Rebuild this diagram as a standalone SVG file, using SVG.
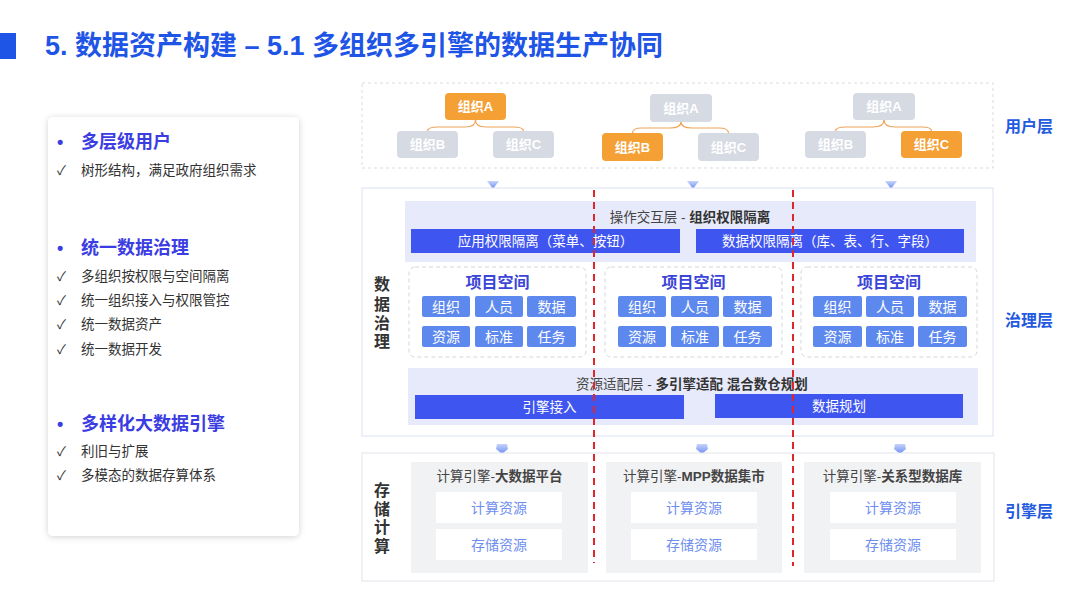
<svg xmlns="http://www.w3.org/2000/svg" width="1080" height="608" viewBox="0 0 1080 608">
<defs>
<style>
text{font-family:"Liberation Sans","Noto Sans CJK SC",sans-serif;}
.title{font-size:27px;font-weight:bold;fill:#1f55e6;}
.h{font-size:18px;font-weight:bold;fill:#3b3de2;}
.it{font-size:13.5px;fill:#333;}
.ck{font-size:13px;fill:#333;}
.lay{font-size:16px;font-weight:bold;fill:#1f5ae0;}
.vt{font-size:16px;font-weight:bold;fill:#333;text-anchor:middle;}
.org{fill:#d6dae3;}
.orgo{fill:#f5a035;}
.ot{font-size:13px;font-weight:bold;fill:#fff;text-anchor:middle;}
.conn{fill:none;stroke:#eea55a;stroke-width:1.2;}
.band{fill:#e7eafa;}
.bar{fill:#3f55f0;}
.bt{font-size:13.5px;fill:#fff;text-anchor:middle;}
.lt{font-size:13.5px;fill:#444;text-anchor:middle;}
.ps{fill:#fff;stroke:#d4d7de;stroke-width:1;stroke-dasharray:4 3;}
.pt{font-size:16px;font-weight:bold;fill:#3b45d8;text-anchor:middle;}
.btn{fill:#5d89ee;}
.btt{font-size:14px;fill:#fff;text-anchor:middle;}
.eng{fill:#f1f2f4;}
.card{fill:#fff;}
.ct{font-size:14px;fill:#6e8ef0;text-anchor:middle;}
.red{stroke:#e0262a;stroke-width:2;stroke-dasharray:7 5;}
</style>
<linearGradient id="ag" x1="0" y1="0" x2="0" y2="1">
<stop offset="0" stop-color="#c6d3fb"/>
<stop offset="1" stop-color="#6b8ef0"/>
</linearGradient>
<filter id="sh" x="-10%" y="-10%" width="120%" height="120%">
<feDropShadow dx="0" dy="1" stdDeviation="3" flood-color="#000" flood-opacity="0.18"/>
</filter>
</defs>
<rect width="1080" height="608" fill="#fff"/>

<g id="title">
<rect x="0" y="33" width="16" height="26" fill="#1f55e6"/>
<text class="title" x="45" y="55">5. 数据资产构建 – 5.1 多组织多引擎的数据生产协同</text>
</g>

<g id="left-card">
<rect x="48" y="117" width="251" height="419" rx="5" fill="#fff" filter="url(#sh)"/>
<text class="h" x="57" y="148">•</text>
<text class="h" x="81" y="148">多层级用户</text>
<text class="ck" x="57" y="175">✓</text>
<text class="it" x="81" y="175">树形结构，满足政府组织需求</text>
<text class="h" x="57" y="254">•</text>
<text class="h" x="81" y="254">统一数据治理</text>
<text class="ck" x="57" y="281">✓</text><text class="it" x="81" y="281">多组织按权限与空间隔离</text>
<text class="ck" x="57" y="305">✓</text><text class="it" x="81" y="305">统一组织接入与权限管控</text>
<text class="ck" x="57" y="329">✓</text><text class="it" x="81" y="329">统一数据资产</text>
<text class="ck" x="57" y="354">✓</text><text class="it" x="81" y="354">统一数据开发</text>
<text class="h" x="57" y="430">•</text>
<text class="h" x="81" y="430">多样化大数据引擎</text>
<text class="ck" x="57" y="456">✓</text><text class="it" x="81" y="456">利旧与扩展</text>
<text class="ck" x="57" y="480">✓</text><text class="it" x="81" y="480">多模态的数据存算体系</text>
</g>

<g id="user-layer">
<rect x="362" y="83" width="631" height="85" fill="#fff" stroke="#d8dbe2" stroke-width="1" stroke-dasharray="3 3"/>
<text class="lay" x="1005" y="132">用户层</text>
</g>

<g id="connectors">
<path class="conn" d="M475.5,120 Q475.5,127 465,127 L438,127 Q427.5,127 427.5,131"/>
<path class="conn" d="M475.5,120 Q475.5,127 486,127 L513,127 Q523.5,127 523.5,131"/>
<path class="conn" d="M681,122 Q681,128 670,128 L642,128 Q632.5,128 632.5,133"/>
<path class="conn" d="M681,122 Q681,128 692,128 L719,128 Q728.5,128 728.5,133"/>
<path class="conn" d="M884,120 Q884,127 873,127 L846,127 Q835.5,127 835.5,131"/>
<path class="conn" d="M884,120 Q884,127 895,127 L922,127 Q931.5,127 931.5,131"/>
<path d="M487,181 L499,181 L493,189 Z" fill="url(#ag)"/>
<path d="M687,181 L699,181 L693,189 Z" fill="url(#ag)"/>
<path d="M885,181 L897,181 L891,189 Z" fill="url(#ag)"/>
<path d="M497,444 L507,444 L508,449 L502,454 L496,449 Z" fill="url(#ag)"/>
<path d="M697,444 L707,444 L708,449 L702,454 L696,449 Z" fill="url(#ag)"/>
<path d="M895,444 L905,444 L906,449 L900,454 L894,449 Z" fill="url(#ag)"/>
</g>

<g id="org1">
<rect class="orgo" x="445" y="93" width="61" height="27" rx="4"/>
<text class="ot" x="475.5" y="111">组织A</text>
<rect class="org" x="397" y="131" width="61" height="27" rx="4"/>
<text class="ot" x="427.5" y="149">组织B</text>
<rect class="org" x="493" y="131" width="61" height="27" rx="4"/>
<text class="ot" x="523.5" y="149">组织C</text>
</g>
<g id="org2">
<rect class="org" x="650" y="94" width="62" height="28" rx="4"/>
<text class="ot" x="681" y="112.5">组织A</text>
<rect class="orgo" x="602" y="133" width="61" height="28" rx="4"/>
<text class="ot" x="632.5" y="151.5">组织B</text>
<rect class="org" x="698" y="133" width="61" height="28" rx="4"/>
<text class="ot" x="728.5" y="151.5">组织C</text>
</g>
<g id="org3">
<rect class="org" x="853" y="93" width="62" height="27" rx="4"/>
<text class="ot" x="884" y="111">组织A</text>
<rect class="org" x="805" y="131" width="61" height="27" rx="4"/>
<text class="ot" x="835.5" y="149">组织B</text>
<rect class="orgo" x="901" y="131" width="61" height="27" rx="4"/>
<text class="ot" x="931.5" y="149">组织C</text>
</g>

<g id="governance">
<rect x="362" y="188" width="631" height="248" fill="#fff" stroke="#dde2f3" stroke-width="1"/>
<text class="vt" x="382" y="290">数</text>
<text class="vt" x="382" y="310">据</text>
<text class="vt" x="382" y="329">治</text>
<text class="vt" x="382" y="347">理</text>
<text class="lay" x="1005" y="326">治理层</text>
</g>

<g id="op-layer">
<rect class="band" x="405" y="201" width="571" height="61"/>
<text class="lt" x="690" y="222">操作交互层 - <tspan font-weight="bold" fill="#333">组织权限隔离</tspan></text>
<rect class="bar" x="411" y="229" width="269" height="24"/>
<text class="bt" x="545.5" y="246">应用权限隔离（菜单、按钮）</text>
<rect class="bar" x="696" y="229" width="268" height="24"/>
<text class="bt" x="830" y="246">数据权限隔离（库、表、行、字段）</text>
</g>

<g id="space1">
<rect class="ps" x="409" y="267" width="177" height="90" rx="6"/>
<text class="pt" x="497.5" y="288">项目空间</text>
<rect class="btn" x="422" y="296" width="48" height="21" rx="2"/><text class="btt" x="446" y="311.5">组织</text>
<rect class="btn" x="475" y="296" width="48" height="21" rx="2"/><text class="btt" x="499" y="311.5">人员</text>
<rect class="btn" x="527" y="296" width="49" height="21" rx="2"/><text class="btt" x="551.5" y="311.5">数据</text>
<rect class="btn" x="422" y="326" width="48" height="21" rx="2"/><text class="btt" x="446" y="341.5">资源</text>
<rect class="btn" x="475" y="326" width="48" height="21" rx="2"/><text class="btt" x="499" y="341.5">标准</text>
<rect class="btn" x="527" y="326" width="49" height="21" rx="2"/><text class="btt" x="551.5" y="341.5">任务</text>
</g>
<g id="space2">
<rect class="ps" x="605" y="267" width="177" height="90" rx="6"/>
<text class="pt" x="693.5" y="288">项目空间</text>
<rect class="btn" x="618" y="296" width="48" height="21" rx="2"/><text class="btt" x="642" y="311.5">组织</text>
<rect class="btn" x="671" y="296" width="48" height="21" rx="2"/><text class="btt" x="695" y="311.5">人员</text>
<rect class="btn" x="723" y="296" width="49" height="21" rx="2"/><text class="btt" x="747.5" y="311.5">数据</text>
<rect class="btn" x="618" y="326" width="48" height="21" rx="2"/><text class="btt" x="642" y="341.5">资源</text>
<rect class="btn" x="671" y="326" width="48" height="21" rx="2"/><text class="btt" x="695" y="341.5">标准</text>
<rect class="btn" x="723" y="326" width="49" height="21" rx="2"/><text class="btt" x="747.5" y="341.5">任务</text>
</g>
<g id="space3">
<rect class="ps" x="801" y="267" width="176" height="90" rx="6"/>
<text class="pt" x="889" y="288">项目空间</text>
<rect class="btn" x="813" y="296" width="49" height="21" rx="2"/><text class="btt" x="837.5" y="311.5">组织</text>
<rect class="btn" x="866" y="296" width="48" height="21" rx="2"/><text class="btt" x="890" y="311.5">人员</text>
<rect class="btn" x="918" y="296" width="49" height="21" rx="2"/><text class="btt" x="942.5" y="311.5">数据</text>
<rect class="btn" x="813" y="326" width="49" height="21" rx="2"/><text class="btt" x="837.5" y="341.5">资源</text>
<rect class="btn" x="866" y="326" width="48" height="21" rx="2"/><text class="btt" x="890" y="341.5">标准</text>
<rect class="btn" x="918" y="326" width="49" height="21" rx="2"/><text class="btt" x="942.5" y="341.5">任务</text>
</g>

<g id="res-layer">
<rect class="band" x="408" y="368" width="570" height="57"/>
<text class="lt" x="692" y="389">资源适配层 - <tspan font-weight="bold" fill="#333">多引擎适配 混合数仓规划</tspan></text>
<rect class="bar" x="415" y="395" width="269" height="24"/>
<text class="bt" x="549.5" y="412">引擎接入</text>
<rect class="bar" x="715" y="394" width="248" height="24"/>
<text class="bt" x="839" y="411">数据规划</text>
</g>

<g id="engine-layer">
<rect x="362" y="453" width="632" height="128" fill="#fff" stroke="#e0e3ea" stroke-width="1"/>
<text class="vt" x="382" y="496">存</text>
<text class="vt" x="382" y="515">储</text>
<text class="vt" x="382" y="533">计</text>
<text class="vt" x="382" y="552">算</text>
<text class="lay" x="1005" y="517">引擎层</text>
</g>
<g id="engine1">
<rect class="eng" x="411" y="462" width="177" height="111"/>
<text class="lt" x="499.5" y="481" fill="#333">计算引擎-<tspan font-weight="bold">大数据平台</tspan></text>
<rect class="card" x="436" y="492" width="126" height="31"/>
<text class="ct" x="499" y="512.5">计算资源</text>
<rect class="card" x="436" y="529" width="126" height="31"/>
<text class="ct" x="499" y="549.5">存储资源</text>
</g>
<g id="engine2">
<rect class="eng" x="606" y="462" width="176" height="111"/>
<text class="lt" x="694" y="481" fill="#333">计算引擎-<tspan font-weight="bold">MPP数据集市</tspan></text>
<rect class="card" x="631" y="492" width="126" height="31"/>
<text class="ct" x="694" y="512.5">计算资源</text>
<rect class="card" x="631" y="529" width="126" height="31"/>
<text class="ct" x="694" y="549.5">存储资源</text>
</g>
<g id="engine3">
<rect class="eng" x="804" y="462" width="177" height="111"/>
<text class="lt" x="892.5" y="481" fill="#333">计算引擎-<tspan font-weight="bold">关系型数据库</tspan></text>
<rect class="card" x="830" y="492" width="126" height="31"/>
<text class="ct" x="893" y="512.5">计算资源</text>
<rect class="card" x="830" y="529" width="126" height="31"/>
<text class="ct" x="893" y="549.5">存储资源</text>
</g>

<g id="dividers">
<line class="red" x1="594" y1="190" x2="594" y2="563"/>
<line class="red" x1="793" y1="190" x2="793" y2="566"/>
</g>
</svg>
